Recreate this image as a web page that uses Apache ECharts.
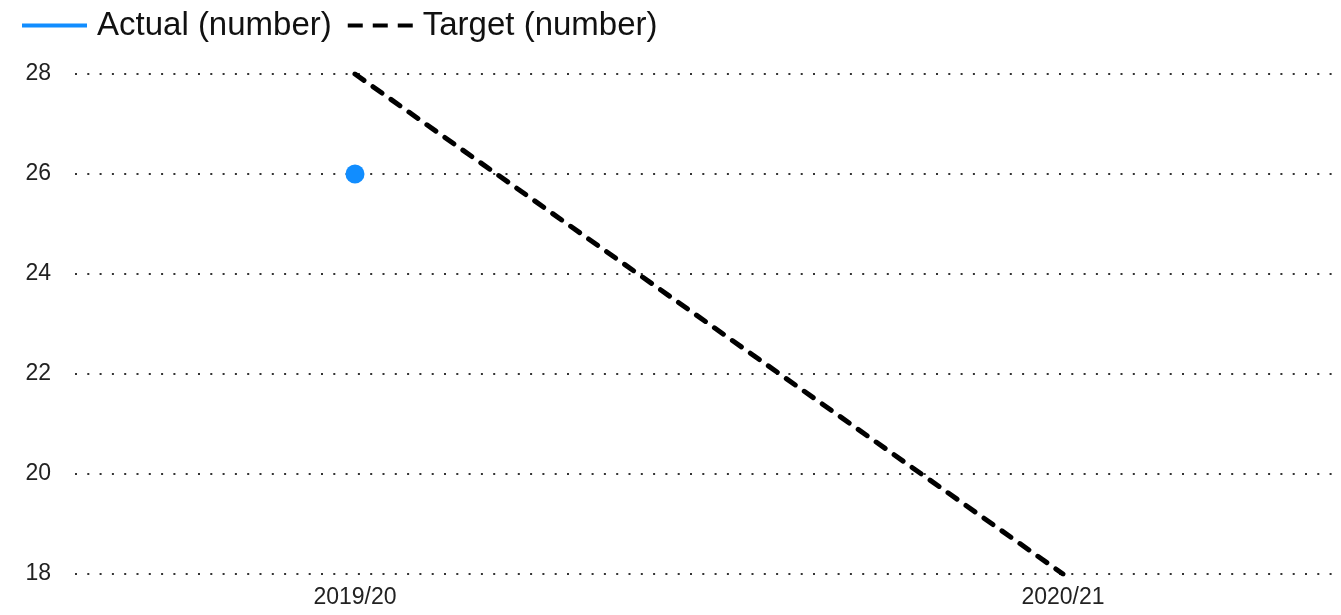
<!DOCTYPE html>
<html><head><meta charset="utf-8">
<script src="https://cdn.jsdelivr.net/npm/echarts@6/dist/echarts.min.js"></script>
<style>html,body{margin:0;padding:0;background:#fff}#c{width:1341px;height:615px}</style>
</head><body><div id="c"></div>
<script>
const categories = ['2019/20', '2020/21'];
const actualValues = [26, null];
const targetValues = [28, 18];
const yTicks = [18, 20, 22, 24, 26, 28];

const FONT = "'Liberation Sans', Arial, sans-serif";
const chart = echarts.init(document.getElementById('c'));
const toPairs = arr => arr.map((v, i) => [i, v]);
chart.setOption({
  animation: false,
  legend: {
    left: 15, top: 4,
    itemWidth: 65, itemHeight: 20, itemGap: 14,
    textStyle: { fontFamily: FONT, fontSize: 33, color: '#111', padding: [0, 0, 0, 5] },
    data: [
      { name: 'Actual (number)', itemStyle: { opacity: 0 }, lineStyle: { width: 4, color: '#118DFF' } },
      { name: 'Target (number)', itemStyle: { opacity: 0 }, lineStyle: { width: 4, color: '#000', type: [15, 10], cap: 'butt' } }
    ]
  },
  grid: { left: 75, right: 0, top: 74, bottom: 41, containLabel: false },
  xAxis: {
    type: 'value', min: -0.3955, max: 1.3927,
    axisLine: { show: false }, axisTick: { show: false }, splitLine: { show: false },
    axisLabel: {
      customValues: [0, 1],
      formatter: v => categories[Math.round(v)],
      fontFamily: FONT, fontSize: 23, color: '#222', margin: 12
    }
  },
  yAxis: {
    type: 'value', min: 18, max: 28, interval: 2,
    axisLine: { show: false }, axisTick: { show: false },
    axisLabel: { fontFamily: FONT, fontSize: 23, color: '#222', margin: 24,
      customValues: yTicks },
    splitLine: { lineStyle: { color: '#333', width: 2, type: [2, 10.3], dashOffset: 0 } }
  },
  series: [
    {
      name: 'Actual (number)', type: 'line', data: toPairs(actualValues),
      symbol: 'circle', symbolSize: 19, showSymbol: true,
      itemStyle: { color: '#118DFF' }, lineStyle: { color: '#118DFF', width: 4 }
    },
    {
      name: 'Target (number)', type: 'line', data: toPairs(targetValues),
      symbol: 'none', clip: true,
      itemStyle: { color: '#000' },
      lineStyle: { color: '#000', width: 5, type: [11, 11], cap: 'round' }
    }
  ]
});
</script></body></html>
